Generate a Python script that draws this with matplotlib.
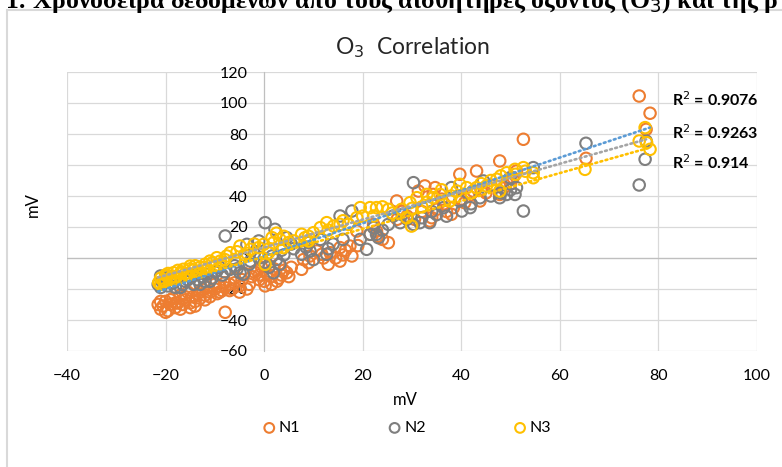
import numpy as np
import matplotlib
matplotlib.use('Agg')
import matplotlib.pyplot as plt
from matplotlib.patches import Rectangle

# sensor readings (mV)
n1_x = [-21.5, -21, -20.5, -20, -19.5, -19, -18.5, -18, -17.5, -17, -16.5, -16, -15.5, -15, -14.5, -14,
        -13.5, -13, -12.5, -12, -11.5, -11, -10, -9.5, -9, -8.5, -8, -7.9, -7, -6.5, -6, -5, -4.5, -3.5,
        -21, -20, -19, -18, -17, -16, -15, -14, -13, -12, -11, -10, -9, -8, -7, -6, -5, -4, -3,
        -2.5, -2, -1.5, -1, -0.5, 0.2, 0.5, 1, 1.5, 2, 2.6, 3, 3.5, 4, 4.6, 5.5,
        -1, 0, 1.5, 3, 5,
        7.6, 8, 9.3, 10.7, 11.7, 13, 13.4, 14.5, 15.4, 15.4, 16.5, 17.4, 17.8, 18.8, 9, 12, 16, 19,
        21.5, 22.2, 22.8, 24, 25.2, 26.9, 28, 23, 27, 29,
        30.5, 31.3, 32.6, 33.6, 34, 34.3, 34.7, 35, 36.5, 38, 38.4, 39.7, 40.7, 41.5, 42.4, 43.1, 43.8, 45,
        32, 36, 37, 40, 44,
        47.8, 47.8, 48.5, 49.2, 50.5, 51.2, 52.6, 46, 50,
        65.3, 76.1, 77.5, 78.3]
n1_y = [-30, -33, -31, -28, -34, -30, -26, -32, -29, -24, -30, -27, -22, -32, -25, -28,
        -23, -26, -20, -24, -19, -22, -20, -23, -18, -21, -19, -35, -17, -20, -16, -18, -14, -20,
        -28, -35, -27, -29, -33, -25, -29, -31, -22, -27, -25, -17, -22, -16, -21, -13, -22, -10, -17,
        -12, -9, -8, -14, -6, -18, -10, -5, -12, -7, -15, -4, -11, -8, -9.5, -6,
        -11, -15, -17, -13, -12,
        -7.3, -1, 1.3, 4.5, 2.4, -4, 3.4, 0, -2, 6.7, 5, 7.7, 1.3, 17.4, -3, 0, 2, 8,
        15.3, 21.7, 17.4, 12, 9.9, 36.8, 30, 14, 25, 27,
        25, 43.2, 46.5, 23.9, 26, 41, 45.4, 31.4, 35, 28.2, 32.5, 54, 35.7, 40, 43.2, 56.1, 36.8, 42,
        30, 38, 30, 38, 44,
        62.6, 41, 45, 48.6, 51.8, 56.1, 76.6, 47, 48,
        64.3, 104.5, 83, 93.4]

n2_x = [-21.5, -21, -21, -20, -19.5, -18.4, -17.5, -17, -16, -15, -14.3, -13.5, -12.5, -11.6, -11, -10,
        -9.6, -8.5, -7.9, -6.9, -6, -4.9, -4.2,
        -20.5, -19, -18, -16.5, -15.5, -14, -13, -12, -10.5, -9, -8, -5.5,
        -3.5, -2.8, -1.1, -0.8, 0.2, 1, 1.6, 1.9, 2.2, 3.2, 3.5, 4.6, 5.5, -3, -2, 0, 2.5, 4, 6,
        7.6, 8.5, 9.3, 10, 11.4, 12.7, 14, 15.4, 17.8, 19.5, 20.8, 9, 13, 16,
        21.5, 22.2, 22.8, 23.2, 25.2, 26.2, 27.6, 29, 24, 28,
        30.3, 30.3, 31.6, 33.6, 35, 36.4, 38, 39.7, 40.1, 41.8, 43.8, 44.5, 32, 34, 37, 42,
        47.8, 49.2, 49.9, 50.9, 51.2, 52.6, 54.6, 46, 48, 50,
        65.3, 76.1, 77.3, 77.5]
n2_y = [-17, -11.6, -19, -14, -18, -16, -13, -19, -15, -12, -17, -14, -12, -10.5, -15, -9,
        -8.4, -11, 14.2, -7.3, -5, -9.5, -10.5,
        -16, -12, -19, -17, -14, -11, -17, -15, -13, -6, -9, -7,
        8.8, -2, 11, 0.2, 22.8, -6, 1.3, -9.5, 18.5, -4, 5, 13.1, 9, -4, 3, -3, -1, 2, 6,
        2.4, 7, 4.5, -1, 12, 2.4, 9, 27.1, 30.3, 12, 5.6, 10, 6, 12,
        15.3, 19.6, 15.3, 13.1, 21.7, 27.1, 22.8, 25, 18, 28,
        48.6, 21.7, 22.8, 22.8, 28, 32.5, 45.4, 36.8, 30.3, 32.5, 38.9, 49.7, 26, 30, 27, 35,
        38.9, 41, 51.8, 41, 45.4, 30.3, 58.3, 40, 42, 44,
        74, 47.1, 63.7, 75.5]

n3_x = [-21.4, -21, -20.4, -20, -19.7, -19, -18.4, -18, -17, -16.8, -16.4, -16, -15, -14.5, -13.6, -13,
        -12, -11.5, -10.5,
        -21, -20, -19.5, -18.5, -17.5, -17, -15.5, -15, -14, -13, -12, -11, -10,
        -9.6, -8.9, -7.6, -6.9, -6, -4.9, -4, -2.8, -1.1, -0.1, 0.2, -8, -5.5, -3.5, -2,
        0.9, 1.6, 1.9, 2.5, 3.2, 3.9, 5, 1, 4, 6,
        7.6, 8.3, 9, 10, 11.4, 12.7, 14.1, 15.4, 17.1, 18.8, 19.5, 9, 13, 16, 20,
        21.5, 22.2, 22.8, 25.2, 24, 26,
        27.9, 28.9, 29.6, 29.9, 31, 32, 33, 34.3, 35.7, 37.7, 39.1, 39.7, 41.1, 43.1, 45.1,
        30, 33, 36, 38, 42, 44,
        47.2, 47.8, 49.2, 50.9, 52.6, 54.6, 54.6, 46, 48, 51, 53,
        65.1, 76.1, 77.3, 77.6, 78.3]
n3_y = [-15.9, -13, -14.8, -11, -11.6, -13, -9.5, -12, -12.7, -9, -7.3, -10, -5.2, -8, -8.4, -6,
        -4.1, -7, -3,
        -17, -15, -10, -14, -8, -10, -11, -7, -5, -9, -6, -2, -5,
        0.2, -2, 1.3, 3.4, -1, 7.7, 2, 5.6, 6.7, 8.8, -4.1, -1, 4, 3, 9,
        3.4, 13.1, 9.9, 16, 12, 6.7, 10, 6, 14, 11,
        15.3, 13.1, 11, 16.3, 19.6, 22.8, 20.6, 21.7, 21.7, 26, 32.5, 14, 18, 24, 27,
        32.5, 27.1, 32.5, 31.4, 33, 29,
        31.4, 26, 35.7, 20.6, 38.9, 33, 41, 38.9, 41, 36.8, 43.2, 47.5, 45.4, 45.4, 46.5,
        32, 36, 44, 40, 42, 48,
        50.8, 43.2, 55, 57.2, 58.3, 55, 51.8, 50, 53, 54, 56,
        57.2, 75.5, 84.1, 74.4, 70.1]

series = ['N1', 'N2', 'N3']
colors = ['#ED7D31', '#7F7F7F', '#FFC000']
# linear trendlines as drawn in the reference (slope, intercept)
trend_slope = [1.06, 0.90, 0.90]
trend_icpt = [1.2, 6.8, 0.8]
trend_colors = ['#5B9BD5', '#A5A5A5', '#FFC000']
r2_labels = ['R$^2$ = 0.9076', 'R$^2$ = 0.9263', 'R$^2$ = 0.914']

plt.rcParams['font.family'] = ['Lato', 'DejaVu Sans']

fig = plt.figure(figsize=(7.82, 4.67), dpi=100)
ax = fig.add_axes([67/782, 1-351/467, 690/782, 279/467])

# chart frame and the clipped caption above it
fig.patches.append(Rectangle((7/782, -0.05), 1.0, 1 - 10/467 + 0.05, transform=fig.transFigure,
                             fill=False, edgecolor='#d9d9d9', lw=1.5))
fig.text(5/782, 1 - 8/467, '1: Χρονοσειρά δεδομένων από τους αισθητήρες όζοντος (O$_3$) και της ρ',
         family=['Liberation Serif', 'DejaVu Serif'], fontweight='bold', fontsize=18.5, va='baseline', ha='left')

data = [(n1_x, n1_y), (n2_x, n2_y), (n3_x, n3_y)]
for (xs, ys), name, c in zip(data, series, colors):
    ax.scatter(xs, ys, s=68, facecolors='none', edgecolors=c, linewidths=1.5, label=name, zorder=3)

for (xs, ys), k, b, c in zip(data, trend_slope, trend_icpt, trend_colors):
    xx = np.array([min(xs), max(xs)])
    ax.plot(xx, k*xx + b, color=c, lw=1.9, linestyle=(0, (0.7, 1.3)), dash_capstyle='round', zorder=4)

ax.set_xlim(-40, 100)
ax.set_ylim(-60, 120)
ax.set_xticks(range(-40, 101, 20))
ax.set_yticks(range(-60, 121, 20))
ax.grid(True, color='#d9d9d9', lw=0.9)
ax.set_axisbelow(True)
ax.axhline(0, color='#bfbfbf', lw=0.9, zorder=1)
for s in ['top', 'right', 'bottom']:
    ax.spines[s].set_visible(False)
ax.spines['left'].set_position(('data', 0))
ax.spines['left'].set_color('#bfbfbf')
ax.tick_params(axis='y', length=0, pad=12, labelsize=11.5)
ax.tick_params(axis='x', length=0, pad=13, labelsize=11.5)

ax.set_title('O$_3$  Correlation', fontsize=16.5, color='#262626', pad=13)
fig.text(405/782, 1 - 400/467, 'mV', ha='center', va='center', fontsize=12)
fig.text(33/782, 1 - 205/467, 'mV', ha='center', va='center', rotation=90, fontsize=12)

for lab, yp in zip(r2_labels, [100, 133, 163]):
    fig.text(672/782, 1 - yp/467, lab, ha='left', va='center', fontsize=11.5, fontweight='bold')

fig.legend(loc='center', bbox_to_anchor=(407/782, 1 - 428/467), ncol=3, frameon=False,
           fontsize=11.5, columnspacing=5.5, handlelength=0.8, handletextpad=0.2, markerscale=0.85)

plt.savefig('out.png', dpi=100)
